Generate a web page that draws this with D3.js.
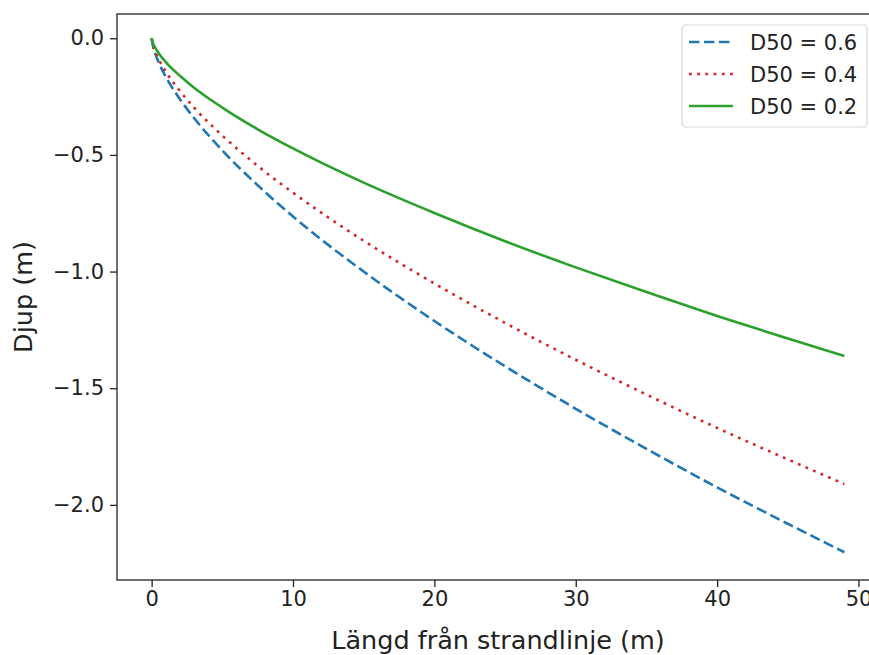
<!DOCTYPE html>
<html>
<head>
<meta charset="utf-8">
<script src="https://cdn.jsdelivr.net/npm/d3@7"></script>
<style>
    body { margin: 0; background: #fff; }
    svg { display: block; font-family: "DejaVu Sans", sans-serif; }
</style>
</head>
<body>
<div class="canvas"></div>
<script>
// distance from shoreline (m)
const distance = [0, 0.1, 0.25, 0.5, 1, 2, 3, 5, 7.5, 10, 15, 20, 25, 30, 35, 40, 45, 49];

// depth (m), one list per grain size
const depthD06 = [0, -0.035, -0.065, -0.104, -0.165, -0.261, -0.342, -0.481, -0.630, -0.764,
    -1.000, -1.212, -1.406, -1.588, -1.760, -1.925, -2.081, -2.203];
const depthD04 = [0, -0.031, -0.057, -0.090, -0.143, -0.226, -0.297, -0.417, -0.547, -0.662,
    -0.868, -1.051, -1.220, -1.378, -1.527, -1.670, -1.805, -1.911];
const depthD02 = [0, -0.022, -0.040, -0.064, -0.102, -0.161, -0.212, -0.297, -0.390, -0.472,
    -0.619, -0.749, -0.870, -0.982, -1.088, -1.190, -1.287, -1.362];

const seriesNames = ['D50 = 0.6', 'D50 = 0.4', 'D50 = 0.2'];
const xTicks = [0, 10, 20, 30, 40, 50];
const yTicks = [0, -0.5, -1.0, -1.5, -2.0];

const dimensions = { width: 869, height: 655 };
const plot = { left: 117, top: 14, right: 879, bottom: 580 };

const svg = d3.select('.canvas')
    .append('svg')
    .attr('width', dimensions.width)
    .attr('height', dimensions.height);

const x = d3.scaleLinear().domain([-2.45, 51.45]).range([plot.left, plot.right]);
const y = d3.scaleLinear().domain([0.104, -2.322]).range([plot.top, plot.bottom]);

const styles = [
    { color: '#1f77b4', dash: '10.4,4.6' },
    { color: '#d62728', dash: '2.8,5.4' },
    { color: '#2ca02c', dash: null }
];

const series = [depthD06, depthD04, depthD02].map((values, i) => ({
    name: seriesNames[i],
    style: styles[i],
    points: distance.map((d, j) => ({ x: d, y: values[j] }))
}));

const line = d3.line()
    .x(d => x(d.x))
    .y(d => y(d.y))
    .curve(d3.curveMonotoneX);

svg.append('g')
    .selectAll('path')
    .data(series)
    .enter()
    .append('path')
    .attr('fill', 'none')
    .attr('stroke', d => d.style.color)
    .attr('stroke-width', 2.6)
    .attr('stroke-dasharray', d => d.style.dash)
    .attr('d', d => line(d.points));

// frame
svg.append('rect')
    .attr('x', plot.left)
    .attr('y', plot.top)
    .attr('width', plot.right - plot.left)
    .attr('height', plot.bottom - plot.top)
    .attr('fill', 'none')
    .attr('stroke', '#222')
    .attr('stroke-width', 1.3);

// axes
const fmt = d => d3.format('.1f')(d).replace('-', '\u2212');

const xAxis = svg.append('g')
    .attr('transform', `translate(0, ${plot.bottom})`)
    .call(d3.axisBottom(x).tickValues(xTicks).tickSize(7).tickPadding(4).tickFormat(d3.format('d')));

const yAxis = svg.append('g')
    .attr('transform', `translate(${plot.left}, 0)`)
    .call(d3.axisLeft(y).tickValues(yTicks).tickSize(7).tickPadding(6).tickFormat(fmt));

[xAxis, yAxis].forEach(axis => {
    axis.select('.domain').remove();
    axis.selectAll('line').attr('stroke', '#222').attr('stroke-width', 1.3);
    axis.selectAll('text')
        .attr('fill', '#222')
        .style('font-size', '21px')
        .style('font-family', '"DejaVu Sans", sans-serif');
});

// axis labels
svg.append('text')
    .attr('x', (plot.left + plot.right) / 2)
    .attr('y', 649)
    .attr('text-anchor', 'middle')
    .attr('fill', '#222')
    .style('font-size', '25.5px')
    .text('Längd från strandlinje (m)');

svg.append('text')
    .attr('transform', `translate(32, ${(plot.top + plot.bottom) / 2}) rotate(-90)`)
    .attr('text-anchor', 'middle')
    .attr('fill', '#222')
    .style('font-size', '25.5px')
    .text('Djup (m)');

// legend
const legendGroup = svg.append('g')
    .attr('transform', 'translate(682, 25)');

legendGroup.append('rect')
    .attr('width', 185)
    .attr('height', 102)
    .attr('rx', 4)
    .attr('fill', '#fff')
    .attr('fill-opacity', 0.8)
    .attr('stroke', '#d9d9d9')
    .attr('stroke-width', 1.2);

const legendItems = legendGroup.selectAll('g.item')
    .data(series)
    .enter()
    .append('g')
    .attr('class', 'item')
    .attr('transform', (d, i) => `translate(0, ${17 + i * 32})`);

legendItems.append('line')
    .attr('x1', 7)
    .attr('x2', 51)
    .attr('stroke', d => d.style.color)
    .attr('stroke-width', 2.6)
    .attr('stroke-dasharray', d => d.style.dash);

legendItems.append('text')
    .attr('x', 68)
    .attr('dy', '0.36em')
    .attr('fill', '#222')
    .style('font-size', '21px')
    .text(d => d.name);
</script>
</body>
</html>
